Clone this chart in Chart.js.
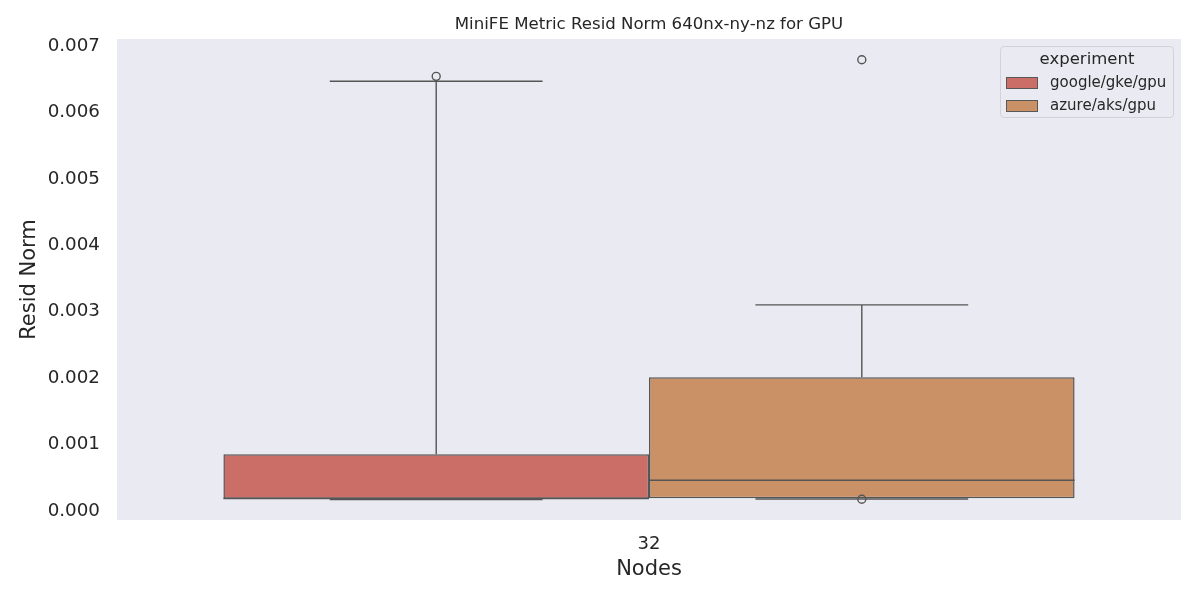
<!DOCTYPE html>
<html>
<head>
<meta charset="utf-8">
<script src="https://cdn.jsdelivr.net/npm/chart.js@4.4.1/dist/chart.umd.min.js"></script>
<style>
  html, body { margin: 0; padding: 0; background: #ffffff; }
  #wrap { position: relative; width: 1200px; height: 600px; }
  #legend {
    position: absolute; left: 1000px; top: 46px; width: 172px; height: 70px;
    background: rgba(234,234,242,0.8); border: 1px solid #d2d2da; border-radius: 4px;
    font-family: "DejaVu Sans", sans-serif; color: #262626;
  }
  #legend .ttl { text-align: center; font-size: 16.5px; line-height: 16px; margin-top: 4px; }
  #legend .item { position: absolute; left: 5px; font-size: 15px; line-height: 14px; }
  #legend .sw { position: absolute; left: 0; top: 1px; width: 30px; height: 10px; border: 1px solid #575757; box-sizing: content-box; }
  #legend .lb { position: absolute; left: 44px; top: -1px; white-space: nowrap; }
</style>
</head>
<body>
<div id="wrap">
  <canvas id="c" width="1200" height="600"></canvas>
  <div id="legend"></div>
</div>
<script>
// ---- data ----
const categories = ['32'];
const experiments = ['google/gke/gpu', 'azure/aks/gpu'];
const boxColors = ['#CB6E67', '#CA9167'];
const q1Values = [0.000163, 0.000169];
const medianValues = [0.000165, 0.00044];
const q3Values = [0.000831, 0.00199];
const whiskerLow = [0.00015, 0.000158];
const whiskerHigh = [0.006446, 0.00308];
const outlierValues = [[0.006521], [0.00677, 0.000154]];
const yTickValues = [0, 0.001, 0.002, 0.003, 0.004, 0.005, 0.006, 0.007];
const yMin = -0.000158;
const yMax = 0.007083;
const chartTitle = 'MiniFE Metric Resid Norm 640nx-ny-nz for GPU';

const lineColor = '#555555';
const textColor = '#262626';
const FONT = '"DejaVu Sans", sans-serif';

const datasets = experiments.map((name, i) => ({
  label: name,
  data: [[q1Values[i], q3Values[i]]],
  backgroundColor: boxColors[i],
  borderColor: lineColor,
  borderWidth: 1.5,
  borderSkipped: false,
  barPercentage: 1.0,
  categoryPercentage: 0.8
}));

const plotBg = {
  id: 'plotBg',
  beforeDraw(chart) {
    const a = chart.chartArea, ctx = chart.ctx;
    ctx.save();
    ctx.fillStyle = '#EAEAF2';
    ctx.fillRect(a.left, a.top, a.right - a.left, a.bottom - a.top);
    ctx.restore();
  }
};

const areaTitle = {
  id: 'areaTitle',
  afterDraw(chart) {
    const a = chart.chartArea, ctx = chart.ctx;
    ctx.save();
    ctx.fillStyle = textColor;
    ctx.font = '16.6px ' + FONT;
    ctx.textAlign = 'center';
    ctx.textBaseline = 'alphabetic';
    ctx.fillText(chartTitle, (a.left + a.right) / 2, 29.3);
    ctx.restore();
  }
};

const boxExtras = {
  id: 'boxExtras',
  afterDatasetsDraw(chart) {
    const ctx = chart.ctx, y = chart.scales.y;
    ctx.save();
    ctx.strokeStyle = lineColor;
    ctx.lineWidth = 1.4;
    experiments.forEach((name, i) => {
      const bar = chart.getDatasetMeta(i).data[0];
      const cx = bar.x, w = bar.width;
      const half = w / 2, capHalf = w / 4;
      const yq1 = y.getPixelForValue(q1Values[i]);
      const yq3 = y.getPixelForValue(q3Values[i]);
      const ylo = y.getPixelForValue(whiskerLow[i]);
      const yhi = y.getPixelForValue(whiskerHigh[i]);
      const ymed = y.getPixelForValue(medianValues[i]);
      ctx.beginPath();
      ctx.moveTo(cx, yq3); ctx.lineTo(cx, yhi);
      ctx.moveTo(cx, yq1); ctx.lineTo(cx, ylo);
      ctx.moveTo(cx - capHalf, yhi); ctx.lineTo(cx + capHalf, yhi);
      ctx.moveTo(cx - capHalf, ylo); ctx.lineTo(cx + capHalf, ylo);
      ctx.moveTo(cx - half, ymed); ctx.lineTo(cx + half, ymed);
      ctx.stroke();
      outlierValues[i].forEach(v => {
        ctx.beginPath();
        ctx.arc(cx, y.getPixelForValue(v), 4, 0, Math.PI * 2);
        ctx.stroke();
      });
    });
    ctx.restore();
  }
};

new Chart(document.getElementById('c'), {
  type: 'bar',
  data: { labels: categories, datasets },
  plugins: [plotBg, boxExtras, areaTitle],
  options: {
    responsive: false,
    animation: false,
    layout: { padding: { left: 0, right: 19, top: 39, bottom: 0 } },
    plugins: {
      legend: { display: false },
      tooltip: { enabled: false },
      title: { display: false }
    },
    scales: {
      x: {
        grid: { display: false, drawTicks: false },
        border: { display: false },
        ticks: { color: textColor, font: { family: FONT, size: 18 }, padding: 14 },
        title: { display: true, text: 'Nodes', color: textColor, font: { family: FONT, size: 21 }, padding: { top: 0, bottom: 17.5 } },
        afterFit(s) { s.height = 80; }
      },
      y: {
        min: yMin, max: yMax,
        grid: { display: false, drawTicks: false },
        border: { display: false },
        afterBuildTicks(s) { s.ticks = yTickValues.map(v => ({ value: v })); },
        ticks: {
          color: textColor, font: { family: FONT, size: 18.3 }, padding: 17, labelOffset: 1.5,
          callback: v => v.toFixed(3)
        },
        title: { display: true, text: 'Resid Norm', color: textColor, font: { family: FONT, size: 21 }, padding: { top: 16.5, bottom: 0 } },
        afterFit(s) { s.width = 117; }
      }
    }
  }
});

// legend (HTML overlay)
const leg = document.getElementById('legend');
leg.innerHTML = '<div class="ttl">experiment</div>';
experiments.forEach((name, i) => {
  const it = document.createElement('div');
  it.className = 'item';
  it.style.top = (29 + i * 22.5) + 'px';
  it.innerHTML = '<span class="sw" style="background:' + boxColors[i] + '"></span><span class="lb">' + name + '</span>';
  leg.appendChild(it);
});
</script>
</body>
</html>
